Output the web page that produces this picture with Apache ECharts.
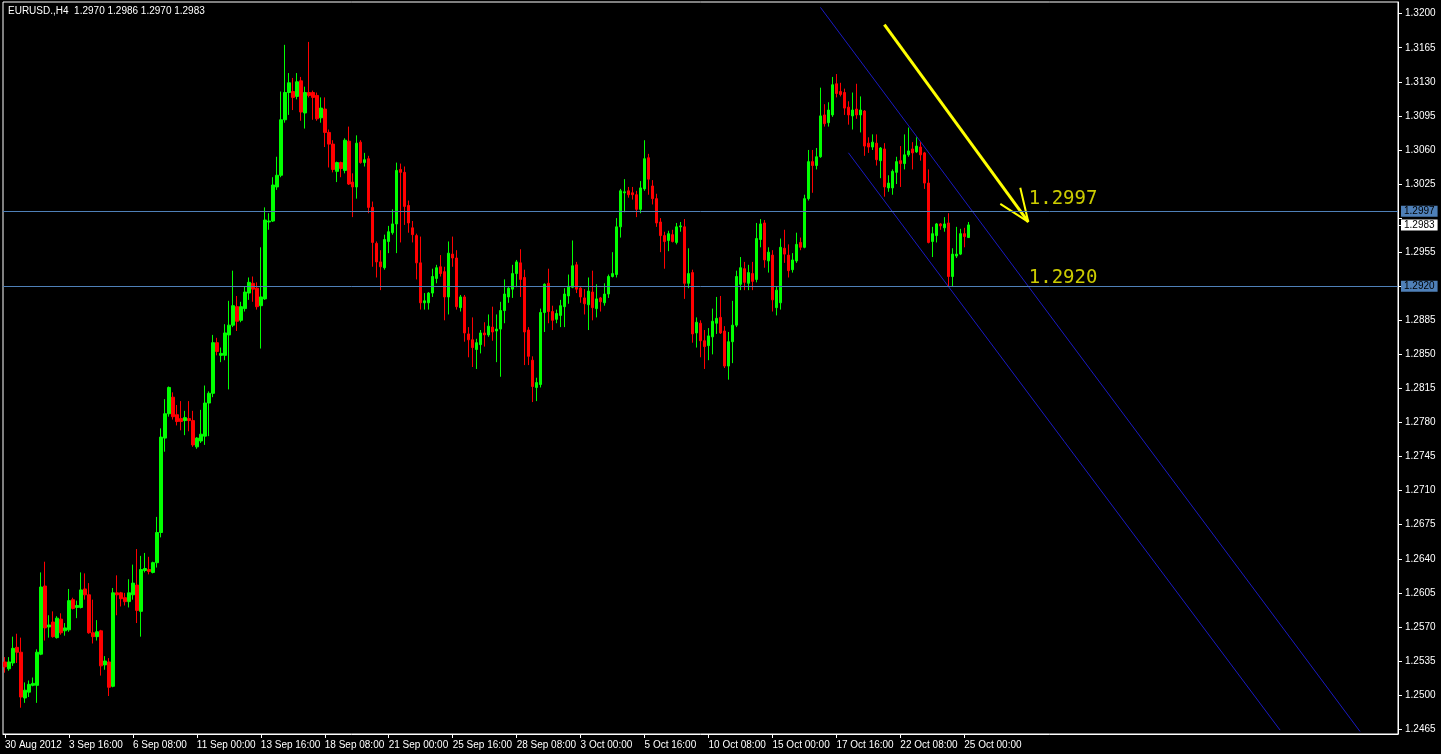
<!DOCTYPE html>
<html><head><meta charset="utf-8">
<script src="https://cdn.jsdelivr.net/npm/echarts/dist/echarts.min.js"></script>
<style>html,body{margin:0;padding:0;background:#000;overflow:hidden}#c{width:1441px;height:754px}</style>
</head><body><div id="c"></div>
<script>
// ---- DATA (EURUSD H4) ----
const open = [1.2534,1.2527,1.2533,1.2549,1.2544,1.2497,1.2503,1.2510,1.2510,1.2542,
1.2612,1.2570,1.2575,1.2559,1.2578,1.2566,1.2567,1.2598,1.2590,1.2590,
1.2609,1.2603,1.2564,1.2560,1.2566,1.2531,1.2534,1.2509,1.2605,1.2605,
1.2600,1.2596,1.2603,1.2613,1.2586,1.2628,1.2629,1.2626,1.2636,1.2667,
1.2764,1.2789,1.2806,1.2788,1.2784,1.2782,1.2784,1.2782,1.2755,1.2761,
1.2766,1.2800,1.2810,1.2862,1.2849,1.2849,1.2870,1.2880,1.2899,1.2885,
1.2897,1.2913,1.2923,1.2918,1.2900,1.2907,1.2986,1.2987,1.3022,1.3034,
1.3091,1.3119,1.3120,1.3115,1.3131,1.3098,1.3119,1.3119,1.3116,1.3093,
1.3102,1.3078,1.3066,1.3038,1.3047,1.3039,1.3069,1.3027,1.3022,1.3068,
1.3047,1.3051,1.3001,1.2964,1.2945,1.2939,1.2966,1.2975,1.2984,1.3040,
1.3037,1.3003,1.2980,1.2972,1.2944,1.2903,1.2903,1.2913,1.2928,1.2940,
1.2935,1.2909,1.2953,1.2949,1.2898,1.2909,1.2871,1.2865,1.2855,1.2860,
1.2872,1.2870,1.2878,1.2874,1.2876,1.2895,1.2909,1.2917,1.2933,1.2944,
1.2929,1.2875,1.2844,1.2816,1.2819,1.2893,1.2923,1.2894,1.2886,1.2890,
1.2899,1.2910,1.2919,1.2942,1.2918,1.2908,1.2901,1.2914,1.2897,1.2908,
1.2903,1.2912,1.2930,1.2932,1.2981,1.3016,1.3018,1.3016,1.3014,1.2999,
1.3020,1.3052,1.3023,1.3010,1.2986,1.2972,1.2967,1.2973,1.2965,1.2981,
1.2981,1.2923,1.2934,1.2872,1.2882,1.2864,1.2859,1.2868,1.2882,1.2888,
1.2874,1.2838,1.2863,1.2880,1.2922,1.2938,1.2923,1.2933,1.2927,1.2968,
1.2985,1.2946,1.2952,1.2898,1.2903,1.2959,1.2952,1.2937,1.2946,1.2965,
1.2960,1.3010,1.3048,1.3044,1.3053,1.3096,1.3088,1.3096,1.3128,1.3120,
1.3119,1.3104,1.3095,1.3102,1.3096,1.3100,1.3067,1.3063,1.3067,1.3049,
1.3061,1.3021,1.3021,1.3037,1.3049,1.3046,1.3055,1.3061,1.3058,1.3063,
1.3057,1.3026,1.2966,1.2972,1.2984,1.2980,1.2985,1.2930,1.2951,1.2953,
1.2974,1.2970];
const high = [1.2539,1.2539,1.2560,1.2563,1.2559,1.2513,1.2515,1.2518,1.2547,1.2626,
1.2637,1.2582,1.2586,1.2581,1.2584,1.2574,1.2609,1.2600,1.2597,1.2626,
1.2625,1.2615,1.2598,1.2577,1.2567,1.2540,1.2538,1.2610,1.2623,1.2606,
1.2605,1.2619,1.2634,1.2650,1.2643,1.2646,1.2642,1.2637,1.2683,1.2774,
1.2804,1.2817,1.2811,1.2798,1.2802,1.2792,1.2802,1.2792,1.2765,1.2793,
1.2818,1.2812,1.2870,1.2867,1.2857,1.2881,1.2905,1.2936,1.2910,1.2904,
1.2920,1.2929,1.2930,1.2924,1.2960,1.3001,1.2995,1.3032,1.3053,1.3120,
1.3168,1.3139,1.3134,1.3139,1.3135,1.3125,1.3171,1.3121,1.3119,1.3114,
1.3114,1.3081,1.3070,1.3048,1.3048,1.3072,1.3084,1.3036,1.3075,1.3070,
1.3057,1.3054,1.3007,1.2966,1.2957,1.2973,1.2982,1.2999,1.3047,1.3046,
1.3043,1.3008,1.2987,1.2974,1.2971,1.2913,1.2914,1.2938,1.2942,1.2952,
1.2940,1.2966,1.2971,1.2957,1.2911,1.2911,1.2878,1.2888,1.2866,1.2875,
1.2883,1.2891,1.2899,1.2891,1.2904,1.2927,1.2919,1.2942,1.2947,1.2958,
1.2937,1.2878,1.2848,1.2826,1.2897,1.2923,1.2938,1.2900,1.2896,1.2906,
1.2918,1.2932,1.2967,1.2945,1.2919,1.2917,1.2929,1.2936,1.2922,1.2909,
1.2923,1.2932,1.2955,1.2990,1.3020,1.3030,1.3022,1.3022,1.3018,1.3028,
1.3070,1.3056,1.3029,1.3015,1.2990,1.2976,1.2977,1.2978,1.2985,1.2986,
1.2989,1.2959,1.2937,1.2888,1.2885,1.2875,1.2877,1.2897,1.2909,1.2910,
1.2879,1.2873,1.2905,1.2936,1.2950,1.2945,1.2942,1.2945,1.2985,1.2989,
1.2988,1.2960,1.2957,1.2920,1.2969,1.2978,1.2963,1.2954,1.2975,1.2970,
1.3014,1.3060,1.3060,1.3062,1.3124,1.3107,1.3109,1.3135,1.3138,1.3129,
1.3123,1.3110,1.3119,1.3128,1.3115,1.3101,1.3073,1.3076,1.3076,1.3063,
1.3067,1.3034,1.3040,1.3053,1.3064,1.3076,1.3083,1.3068,1.3073,1.3068,
1.3058,1.3040,1.2981,1.2985,1.2985,1.2991,1.2995,1.2959,1.2981,1.2979,
1.2980,1.2986];
const low = [1.2523,1.2525,1.2530,1.2533,1.2487,1.2492,1.2498,1.2509,1.2492,1.2541,
1.2556,1.2559,1.2559,1.2558,1.2562,1.2561,1.2565,1.2588,1.2579,1.2589,
1.2598,1.2563,1.2553,1.2556,1.2520,1.2526,1.2499,1.2508,1.2582,1.2591,
1.2592,1.2590,1.2598,1.2574,1.2560,1.2626,1.2624,1.2625,1.2631,1.2662,
1.2750,1.2786,1.2783,1.2777,1.2772,1.2767,1.2771,1.2755,1.2753,1.2759,
1.2757,1.2766,1.2806,1.2849,1.2842,1.2844,1.2814,1.2878,1.2874,1.2883,
1.2894,1.2906,1.2904,1.2896,1.2856,1.2906,1.2978,1.2986,1.3019,1.3032,
1.3088,1.3096,1.3101,1.3112,1.3090,1.3082,1.3114,1.3091,1.3090,1.3088,
1.3063,1.3042,1.3037,1.3027,1.3032,1.3036,1.3024,1.2991,1.3010,1.3046,
1.3043,1.2995,1.2940,1.2929,1.2916,1.2937,1.2954,1.2973,1.2954,1.2965,
1.2983,1.2975,1.2965,1.2927,1.2896,1.2896,1.2896,1.2909,1.2923,1.2930,
1.2885,1.2891,1.2940,1.2896,1.2894,1.2863,1.2847,1.2837,1.2835,1.2851,
1.2858,1.2868,1.2864,1.2842,1.2827,1.2882,1.2903,1.2908,1.2919,1.2909,
1.2839,1.2839,1.2801,1.2802,1.2816,1.2873,1.2882,1.2875,1.2882,1.2878,
1.2878,1.2902,1.2918,1.2913,1.2903,1.2891,1.2875,1.2885,1.2888,1.2894,
1.2900,1.2908,1.2929,1.2929,1.2970,1.2996,1.3011,1.3009,1.2991,1.2995,
1.3018,1.3014,1.3004,1.2981,1.2955,1.2938,1.2956,1.2965,1.2963,1.2976,
1.2907,1.2918,1.2862,1.2857,1.2847,1.2835,1.2844,1.2850,1.2871,1.2871,
1.2836,1.2824,1.2841,1.2878,1.2916,1.2916,1.2916,1.2916,1.2924,1.2960,
1.2939,1.2934,1.2894,1.2890,1.2896,1.2944,1.2929,1.2934,1.2944,1.2957,
1.2959,1.3008,1.3016,1.3040,1.3052,1.3084,1.3084,1.3094,1.3114,1.3115,
1.3096,1.3086,1.3081,1.3092,1.3078,1.3054,1.3057,1.3060,1.3044,1.3031,
1.3012,1.3017,1.3014,1.3025,1.3022,1.3040,1.3053,1.3040,1.3057,1.3049,
1.3020,1.2964,1.2950,1.2965,1.2978,1.2976,1.2920,1.2920,1.2949,1.2952,
1.2960,1.2970];
const close = [1.2529,1.2534,1.2548,1.2544,1.2498,1.2505,1.2511,1.2512,1.2544,1.2611,
1.2569,1.2572,1.2560,1.2579,1.2564,1.2569,1.2597,1.2589,1.2592,1.2608,
1.2603,1.2564,1.2560,1.2565,1.2530,1.2535,1.2508,1.2605,1.2603,1.2599,
1.2596,1.2605,1.2615,1.2587,1.2629,1.2630,1.2627,1.2636,1.2667,1.2765,
1.2789,1.2816,1.2786,1.2781,1.2781,1.2785,1.2782,1.2757,1.2764,1.2768,
1.2800,1.2810,1.2862,1.2853,1.2851,1.2872,1.2880,1.2900,1.2884,1.2899,
1.2914,1.2924,1.2917,1.2899,1.2909,1.2988,1.2987,1.3024,1.3034,1.3091,
1.3119,1.3129,1.3114,1.3130,1.3099,1.3119,1.3116,1.3114,1.3092,1.3103,
1.3078,1.3066,1.3040,1.3047,1.3041,1.3070,1.3025,1.3022,1.3067,1.3047,
1.3050,1.3001,1.2965,1.2945,1.2940,1.2968,1.2976,1.2984,1.3039,1.3037,
1.3002,1.2985,1.2973,1.2944,1.2903,1.2905,1.2913,1.2930,1.2939,1.2933,
1.2909,1.2954,1.2949,1.2899,1.2909,1.2872,1.2865,1.2857,1.2862,1.2872,
1.2870,1.2879,1.2873,1.2876,1.2895,1.2912,1.2918,1.2933,1.2945,1.2927,
1.2873,1.2848,1.2817,1.2821,1.2893,1.2922,1.2894,1.2885,1.2892,1.2900,
1.2912,1.2920,1.2941,1.2917,1.2909,1.2902,1.2915,1.2898,1.2907,1.2904,
1.2912,1.2930,1.2933,1.2981,1.3018,1.3017,1.3014,1.3014,1.2999,1.3021,
1.3051,1.3030,1.3010,1.2985,1.2972,1.2966,1.2974,1.2966,1.2981,1.2982,
1.2923,1.2933,1.2871,1.2883,1.2864,1.2858,1.2869,1.2884,1.2887,1.2872,
1.2838,1.2863,1.2880,1.2930,1.2939,1.2924,1.2934,1.2925,1.2969,1.2984,
1.2947,1.2955,1.2906,1.2916,1.2960,1.2953,1.2936,1.2947,1.2963,1.2960,
1.3010,1.3048,1.3044,1.3053,1.3095,1.3087,1.3101,1.3127,1.3118,1.3117,
1.3103,1.3096,1.3101,1.3096,1.3101,1.3064,1.3063,1.3068,1.3050,1.3062,
1.3022,1.3026,1.3038,1.3048,1.3046,1.3055,1.3059,1.3057,1.3064,1.3055,
1.3026,1.2965,1.2974,1.2984,1.2982,1.2984,1.2930,1.2953,1.2953,1.2974,
1.2971,1.2983];

const xTickLabels = ['30 Aug 2012','3 Sep 16:00','6 Sep 08:00','11 Sep 00:00','13 Sep 16:00','18 Sep 08:00',
  '21 Sep 00:00','25 Sep 16:00','28 Sep 08:00','3 Oct 00:00','5 Oct 16:00','10 Oct 08:00',
  '15 Oct 00:00','17 Oct 16:00','22 Oct 08:00','25 Oct 00:00'];
const barsPerLabel = 16;
const yTicks = [1.2465,1.2500,1.2535,1.2570,1.2605,1.2640,1.2675,1.2710,1.2745,1.2780,1.2815,1.2850,
  1.2885,1.2920,1.2955,1.2990,1.3025,1.3060,1.3095,1.3130,1.3165,1.3200];
const hLines = [1.2997, 1.2920];
const yTicksShown = yTicks.filter(v => hLines.every(h => Math.abs(v - h) > 0.0008));
// channel trendlines: [bar index, price]
const channelUpper = [[204, 1.32065], [339, 1.24626]];
const channelLower = [[211, 1.30571], [319, 1.24640]];
// yellow arrow: [bar index, price]
const arrowShaft = [[220, 1.31887], [256, 1.29862]];
const arrowHead = [[254, 1.30211], [256, 1.29862], [249, 1.30047]];
const textNotes = [[256, 1.30100, '1.2997'], [256, 1.29288, '1.2920']];
const totalSlots = 349;

// ---- CHART ----
const FONT = '"Liberation Sans", Arial, sans-serif';
const last = close.length - 1;
const ohlc = open.map((o, i) => [o, close[i], low[i], high[i]]);
const slots = Array.from({length: totalSlots}, (_, i) => i);
const isTick = i => i % barsPerLabel === 0 && i / barsPerLabel < xTickLabels.length;
const f4 = v => v.toFixed(4);
const bid = close[last];
const tagLabel = (txt, bg) => ({
  show: true, position: 'end', distance: 3, formatter: txt, backgroundColor: bg,
  color: '#000', fontSize: 10, padding: [1, 3, 0, 3], fontFamily: FONT
});

const chart = echarts.init(document.getElementById('c'), null, {renderer: 'canvas'});
chart.setOption({
  backgroundColor: '#000',
  animation: false,
  title: {
    text: `EURUSD.,H4  ${f4(open[last])} ${f4(high[last])} ${f4(low[last])} ${f4(close[last])}`,
    left: 8, top: 6, padding: 0,
    textStyle: {color: '#fff', fontSize: 10, fontWeight: 'normal', fontFamily: FONT}
  },
  grid: {left: 3, right: 43, top: 2, bottom: 20, show: true, borderColor: '#fff', borderWidth: 1},
  xAxis: {
    type: 'category', data: slots, boundaryGap: true,
    axisLine: {show: true, lineStyle: {color: '#fff'}},
    axisTick: {show: true, interval: i => isTick(i), alignWithLabel: true, length: 4, lineStyle: {color: '#fff'}},
    axisLabel: {
      interval: i => isTick(i),
      formatter: v => { const i = Number(v); return isTick(i) ? xTickLabels[i / barsPerLabel] : ''; },
      color: '#fff', fontSize: 10, align: 'left', margin: 6, fontFamily: FONT
    },
    splitLine: {show: false}
  },
  yAxis: {
    type: 'value', position: 'right', min: 1.2460, max: 1.3212, scale: true,
    axisLine: {show: true, lineStyle: {color: '#fff'}},
    axisTick: {show: true, customValues: yTicks.concat([bid]), length: 4, lineStyle: {color: '#fff'}},
    axisLabel: {customValues: yTicksShown, formatter: v => f4(v), color: '#fff', fontSize: 10, margin: 7, fontFamily: FONT},
    splitLine: {show: false}
  },
  series: [
    {
      type: 'line', data: channelUpper, symbol: 'none', silent: true, z: 1,
      lineStyle: {color: '#1a1ac4', width: 1}
    },
    {
      type: 'line', data: channelLower, symbol: 'none', silent: true, z: 1,
      lineStyle: {color: '#1a1ac4', width: 1}
    },
    {
      type: 'line', data: [], symbol: 'none', silent: true, z: 1,
      markLine: {
        silent: true, symbol: ['none', 'none'], animation: false, precision: 4,
        data: hLines.map(v => ({
          yAxis: v,
          lineStyle: {color: '#4f80b8', width: 1, type: 'solid'},
          label: tagLabel(f4(v), '#4f80b8')
        })).concat([{
          yAxis: bid,
          lineStyle: {color: 'rgba(0,0,0,0)', width: 0},
          label: tagLabel(f4(bid), '#ffffff')
        }])
      }
    },
    {
      type: 'candlestick', data: ohlc, barWidth: 3, z: 2,
      itemStyle: {color: '#00ff00', color0: '#ff0000', borderColor: '#00ff00', borderColor0: '#ff0000', borderWidth: 1}
    },
    {
      type: 'line', data: arrowShaft, symbol: 'none', silent: true, z: 3,
      lineStyle: {color: '#ffff00', width: 3}
    },
    {
      type: 'line', data: arrowHead, symbol: 'none', silent: true, z: 3,
      lineStyle: {color: '#ffff00', width: 2}
    },
    {
      type: 'scatter', data: textNotes, symbolSize: 1, silent: true, z: 3,
      itemStyle: {color: 'rgba(0,0,0,0)'},
      label: {show: true, position: 'right', distance: 0, formatter: p => p.data[2],
        color: '#ffff00', fontSize: 19, fontFamily: '"DejaVu Sans Mono", monospace'}
    }
  ]
});
</script>
</body></html>
